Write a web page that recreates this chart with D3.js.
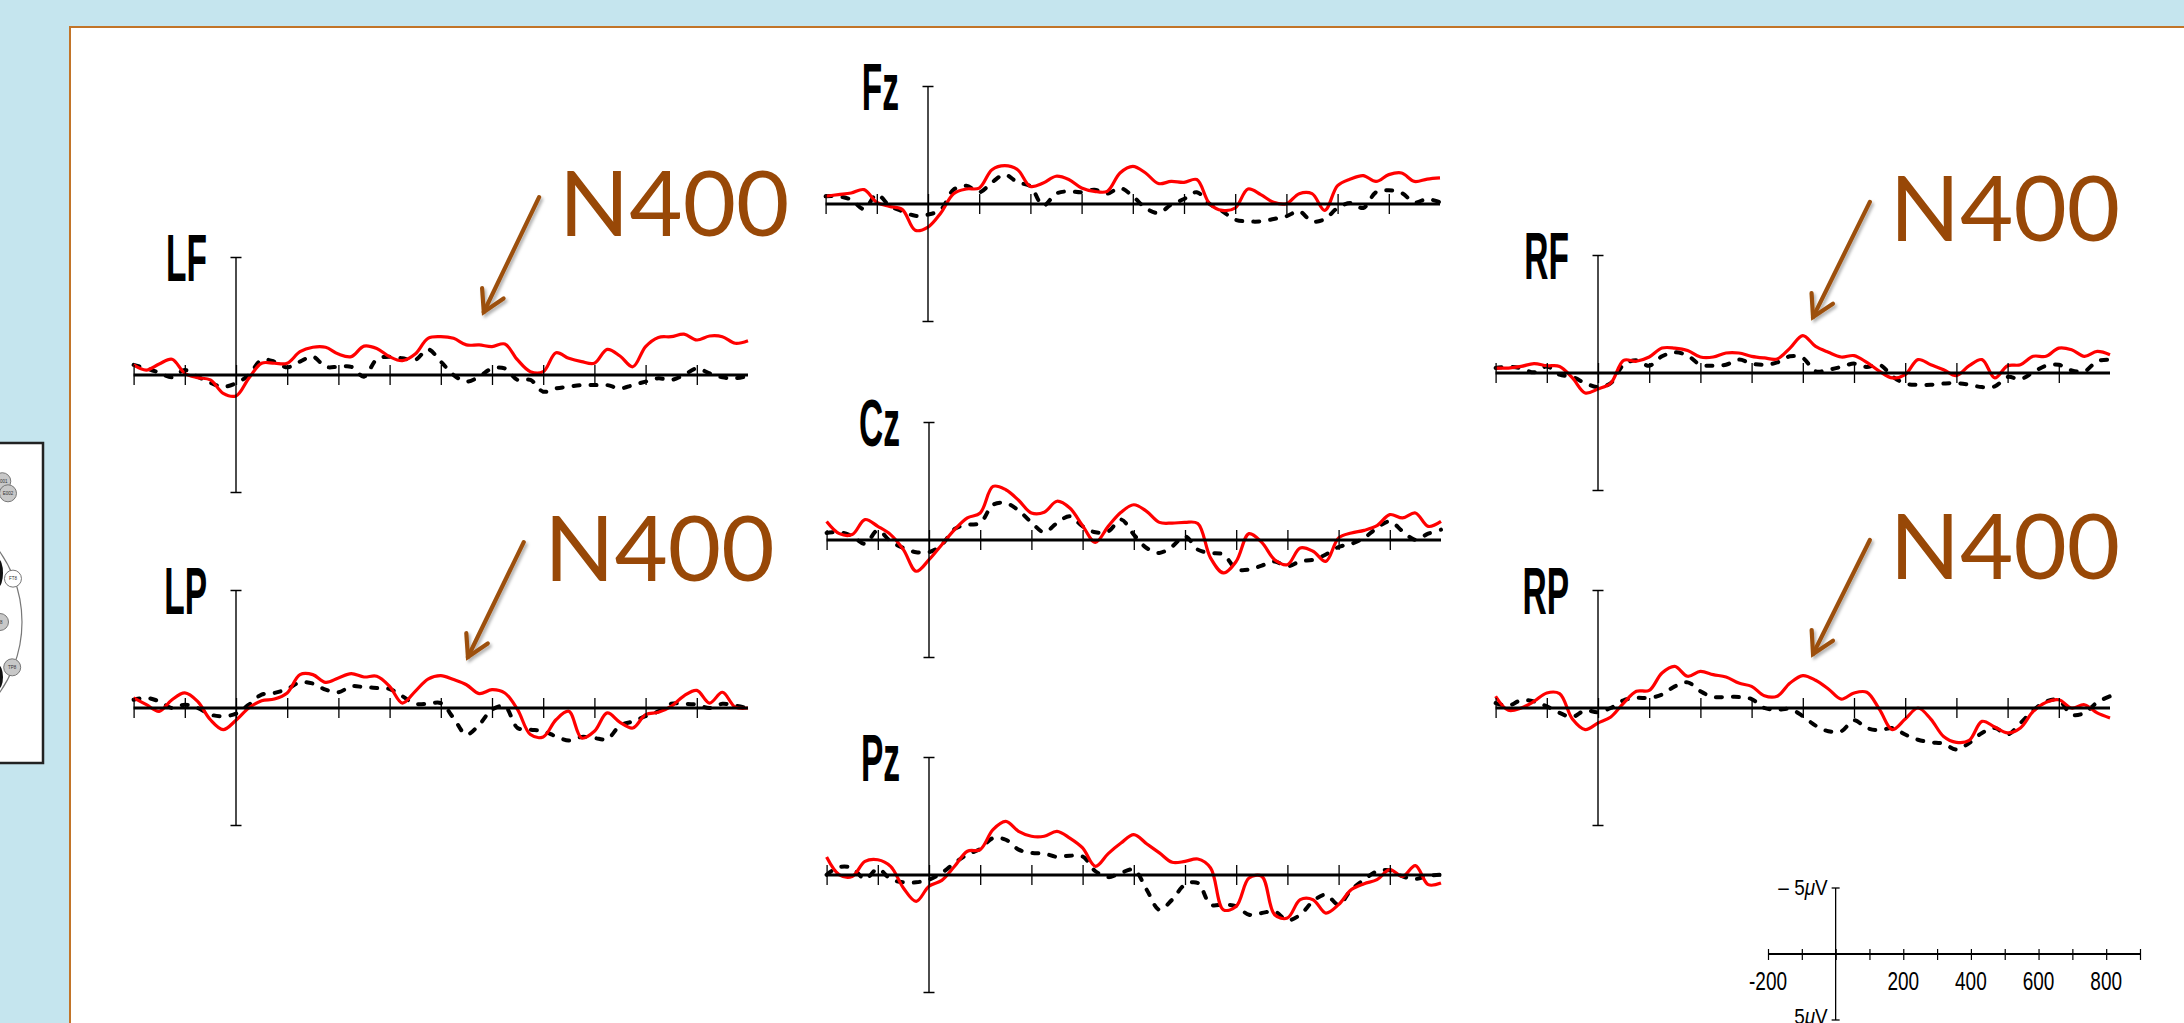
<!DOCTYPE html>
<html>
<head>
<meta charset="utf-8">
<script src="https://cdn.jsdelivr.net/npm/d3@7"></script>
<style>
  html, body { margin:0; padding:0; background:#c5e5ee; overflow:hidden; }
  svg { display:block; }
</style>
</head>
<body>
<div id="chart"></div>
<script>
// ---- data (uV, negative plotted up) ----
const times = [-200,-175,-150,-125,-100,-75,-50,-25,0,25,50,75,100,125,150,175,200,225,250,275,300,325,350,375,400,425,450,475,500,525,550,575,600,625,650,675,700,725,750,775,800,825,850,875,900,925,950,975,1000];
const timeTicks = [-200,-100,0,100,200,300,400,500,600,700,800,900];
const scaleTickLabels = [-200,200,400,600,800];

const lfRed  = [-0.43,-0.21,-0.47,-0.67,-0.07,0.11,0.21,0.78,0.89,0.14,-0.50,-0.50,-0.50,-0.99,-1.18,-1.18,-0.89,-0.78,-1.23,-1.13,-0.78,-0.61,-0.89,-1.56,-1.63,-1.56,-1.28,-1.28,-1.21,-1.32,-0.64,-0.14,-0.14,-0.95,-0.71,-0.57,-0.50,-1.09,-0.81,-0.35,-1.21,-1.60,-1.63,-1.74,-1.49,-1.66,-1.63,-1.35,-1.46];
const lfDash = [-0.43,-0.28,-0.10,0.10,-0.21,0.07,0.33,0.50,0.35,0.00,-0.64,-0.57,-0.33,-0.57,-0.78,-0.35,-0.35,-0.35,0.07,-0.67,-0.78,-0.71,-0.64,-1.09,-0.57,0.00,0.28,0.07,-0.28,-0.28,0.21,0.21,0.71,0.57,0.50,0.43,0.43,0.43,0.57,0.43,0.28,0.14,0.21,0.00,-0.28,-0.07,0.10,0.14,0.04];
const lpRed  = [-0.43,-0.14,0.14,-0.35,-0.64,-0.28,0.50,0.92,0.52,0.00,-0.31,-0.38,-0.64,-1.42,-1.42,-1.09,-1.28,-1.46,-1.32,-1.35,-0.92,-0.21,-0.71,-1.23,-1.38,-1.21,-0.99,-0.61,-0.78,-0.64,0.07,1.13,1.23,0.50,0.14,1.28,0.99,0.21,0.61,0.85,0.28,0.18,-0.07,-0.52,-0.75,-0.21,-0.67,-0.04,0.00];
const lpDash = [-0.35,-0.43,-0.28,0.00,-0.14,0.00,0.28,0.35,0.24,-0.14,-0.57,-0.64,-0.81,-1.09,-1.04,-0.78,-0.67,-0.92,-0.89,-0.85,-0.81,-0.50,-0.18,-0.18,-0.21,0.43,1.13,0.71,0.07,-0.07,0.85,0.92,0.99,1.21,1.38,1.23,1.28,1.32,0.75,0.57,0.35,0.14,-0.18,-0.18,-0.14,0.00,-0.18,-0.10,0.00];
const fzRed  = [-0.33,-0.40,-0.47,-0.61,-0.07,0.10,0.24,1.12,0.98,0.38,-0.44,-0.64,-0.68,-1.46,-1.63,-1.46,-0.75,-0.89,-1.18,-1.04,-0.68,-0.54,-0.54,-1.32,-1.60,-1.32,-0.87,-0.96,-0.92,-1.04,-0.01,0.27,0.17,-0.64,-0.40,-0.07,-0.01,-0.44,-0.44,0.27,-0.78,-1.06,-1.21,-0.96,-1.25,-1.32,-0.96,-1.06,-1.11];
const fzDash = [-0.33,-0.33,-0.18,0.21,-0.40,0.07,0.31,0.50,0.45,0.24,-0.61,-0.78,-0.50,-0.92,-1.25,-0.92,-0.75,0.07,-0.44,-0.54,-0.50,-0.61,-0.44,-0.68,-0.33,0.17,0.38,0.03,-0.21,-0.50,-0.01,0.31,0.67,0.74,0.74,0.64,0.52,0.31,0.74,0.64,0.17,-0.04,0.17,-0.50,-0.58,-0.47,-0.07,-0.21,-0.07];
const czRed  = [-0.79,-0.27,-0.23,-0.87,-0.58,-0.23,0.41,1.33,0.84,0.20,-0.44,-0.94,-1.15,-2.28,-2.14,-1.69,-1.15,-1.18,-1.65,-1.36,-0.61,0.10,-0.58,-1.18,-1.50,-1.22,-0.75,-0.72,-0.75,-0.70,0.77,1.40,0.91,-0.27,0.10,0.84,1.05,0.34,0.48,0.91,-0.09,-0.30,-0.41,-0.61,-1.08,-0.94,-1.15,-0.58,-0.79];
const czDash = [-0.30,-0.33,-0.16,0.16,-0.41,0.06,0.34,0.52,0.52,0.20,-0.47,-0.65,-0.72,-1.50,-1.57,-1.26,-0.75,-0.33,-0.72,-1.01,-0.58,-0.33,-0.37,-0.87,-0.23,0.34,0.55,0.27,-0.16,0.41,0.55,0.62,1.23,1.26,1.09,0.91,1.12,0.91,0.84,0.62,0.30,0.16,-0.09,-0.51,-0.79,-0.37,-0.01,-0.27,-0.44];
const pzRed  = [-0.77,-0.01,0.06,-0.58,-0.65,-0.37,0.55,1.12,0.48,0.23,-0.37,-1.01,-1.08,-1.93,-2.28,-1.86,-1.65,-1.65,-1.86,-1.57,-1.15,-0.37,-0.91,-1.36,-1.72,-1.33,-0.94,-0.54,-0.58,-0.68,-0.30,1.48,1.33,0.13,0.06,1.69,1.83,1.05,1.05,1.62,1.26,0.62,0.37,0.20,-0.23,0.06,-0.40,0.41,0.34];
const pzDash = [-0.01,-0.34,-0.30,0.17,-0.26,0.17,0.31,0.31,0.20,-0.09,-0.51,-0.87,-1.11,-1.57,-1.50,-1.08,-0.94,-0.91,-0.77,-0.82,-0.79,-0.16,0.09,-0.09,-0.23,0.62,1.48,1.05,0.41,0.34,1.26,1.26,1.33,1.69,1.62,1.55,1.93,1.69,1.12,0.84,1.26,0.62,0.20,-0.16,-0.20,0.06,0.17,0.03,-0.01];
const rfRed  = [-0.21,-0.21,-0.28,-0.40,-0.31,-0.28,0.21,0.85,0.68,0.43,-0.54,-0.50,-0.68,-1.06,-1.06,-0.96,-0.68,-0.68,-0.85,-0.85,-0.71,-0.64,-0.60,-1.06,-1.59,-1.13,-0.88,-0.68,-0.74,-0.45,-0.07,0.21,0.07,-0.57,-0.35,-0.14,0.11,-0.31,-0.57,0.21,-0.31,-0.35,-0.71,-0.71,-1.06,-0.99,-0.71,-0.92,-0.78];
const rfDash = [-0.21,-0.26,-0.20,-0.03,-0.28,0.07,0.17,0.43,0.60,0.43,-0.35,-0.54,-0.31,-0.71,-0.88,-0.74,-0.35,-0.31,-0.35,-0.57,-0.40,-0.35,-0.45,-0.71,-0.64,-0.07,-0.14,-0.26,-0.40,-0.26,-0.35,0.14,0.45,0.50,0.50,0.45,0.43,0.50,0.60,0.57,0.17,0.26,-0.03,-0.31,-0.35,-0.11,-0.07,-0.50,-0.57];
const rpRed  = [-0.50,0.10,0.00,-0.28,-0.64,-0.61,0.47,0.92,0.64,0.38,-0.21,-0.71,-0.75,-1.49,-1.77,-1.35,-1.56,-1.42,-1.32,-1.06,-0.92,-0.52,-0.50,-1.06,-1.38,-1.18,-0.81,-0.38,-0.64,-0.67,0.07,0.92,0.47,0.00,0.47,1.21,1.46,1.38,0.57,0.81,1.06,0.85,0.14,-0.24,-0.35,0.00,-0.14,0.21,0.43];
const rpDash = [-0.21,-0.10,-0.33,-0.28,-0.07,0.21,0.38,0.10,0.18,0.00,-0.33,-0.43,-0.43,-0.57,-0.92,-1.09,-0.71,-0.47,-0.47,-0.47,-0.38,0.00,0.07,0.04,0.35,0.75,0.99,0.99,0.52,0.85,0.95,0.85,1.13,1.35,1.46,1.52,1.77,1.49,1.06,0.85,1.13,0.64,0.10,-0.28,-0.33,0.28,0.21,-0.24,-0.50];

// N400 callouts, in each panel's own (ms, uV) units
const n400Notes = [
  { site:"LF", text:[631,-5.91], from:[592,-7.57], to:[484,-2.68] },
  { site:"LP", text:[602,-5.40], from:[562,-7.06], to:[453,-2.17] },
  { site:"RF", text:[570,-5.62], from:[531,-7.28], to:[420,-2.38] },
  { site:"RP", text:[570,-5.49], from:[531,-7.15], to:[420,-2.30] }
];

// electrodes of the cropped head map: angle (deg) and radius on the head
const headElectrodes = [
  { label:"E001", a:-54, r:174, fill:"#c8c8c8" },
  { label:"E002", a:-50, r:168, fill:"#c8c8c8" },
  { label:"FT8",  a:-21, r:121, fill:"#fff" },
  { label:"T8",   a:0,   r:100, fill:"#c8c8c8" },
  { label:"TP8",  a:22,  r:121, fill:"#c8c8c8" }
];

// ---- layout ----
const W = 2184, H = 1023;
const plots = [
  { site:"LF", x0:236, y0:375, red:lfRed, dash:lfDash },
  { site:"LP", x0:236, y0:708, red:lpRed, dash:lpDash },
  { site:"Fz", x0:928, y0:204, red:fzRed, dash:fzDash },
  { site:"Cz", x0:929, y0:540, red:czRed, dash:czDash },
  { site:"Pz", x0:929, y0:875, red:pzRed, dash:pzDash },
  { site:"RF", x0:1598, y0:373, red:rfRed, dash:rfDash },
  { site:"RP", x0:1598, y0:708, red:rpRed, dash:rpDash }
];
const PXMS = 0.512, HALF = 117.5;

const svg = d3.select("#chart").append("svg").attr("width", W).attr("height", H);

const defs = svg.append("defs");
defs.append("filter").attr("id","shadow").attr("x","-30%").attr("y","-30%").attr("width","160%").attr("height","160%")
  .append("feDropShadow").attr("dx",2).attr("dy",2.5).attr("stdDeviation",1.6)
  .attr("flood-color","#000").attr("flood-opacity",0.3);
defs.append("clipPath").attr("id","headClip")
  .append("rect").attr("x",0).attr("y",444).attr("width",42).attr("height",318);

svg.append("rect").attr("width",W).attr("height",H).attr("fill","#c5e5ee");
svg.append("rect").attr("x",70).attr("y",27).attr("width",W).attr("height",H)
  .attr("fill","#fff").attr("stroke","#c27428").attr("stroke-width",2);

// cropped head map (left edge of slide)
svg.append("rect").attr("x",-10).attr("y",443).attr("width",53).attr("height",320)
  .attr("fill","#fff").attr("stroke","#222").attr("stroke-width",2.5);
const head = svg.append("g").attr("clip-path","url(#headClip)");
const hc = { x:-100, y:622 };
head.append("circle").attr("cx",hc.x).attr("cy",hc.y).attr("r",122)
  .attr("fill","none").attr("stroke","#777").attr("stroke-width",1.2);
head.append("ellipse").attr("cx",-2).attr("cy",573).attr("rx",5).attr("ry",14).attr("fill","#111");
head.append("ellipse").attr("cx",-2).attr("cy",677).attr("rx",5).attr("ry",12).attr("fill","#111");
const el = head.selectAll(".el").data(headElectrodes).join("g")
  .attr("transform", d => `translate(${hc.x + d.r*Math.cos(d.a*Math.PI/180)},${hc.y + d.r*Math.sin(d.a*Math.PI/180)})`);
el.append("circle").attr("r",8.5).attr("fill",d=>d.fill).attr("stroke","#777").attr("stroke-width",1);
el.append("text").attr("text-anchor","middle").attr("dy","0.35em")
  .style("font-family","Liberation Sans, Arial, sans-serif").style("font-size","4.5px").attr("fill","#333")
  .text(d=>d.label);

// ---- ERP panels ----
const scales = {};
plots.forEach(p => {
  const x = d3.scaleLinear().domain([-200, 1000]).range([p.x0 - 200*PXMS, p.x0 + 1000*PXMS]);
  const y = d3.scaleLinear().domain([-5, 5]).range([p.y0 - HALF, p.y0 + HALF]);
  scales[p.site] = { x, y };
  const g = svg.append("g");

  const line = d3.line()
    .x((d,i) => x(times[i]))
    .y(d => y(d))
    .curve(d3.curveCatmullRom.alpha(0.5));

  g.append("path").datum(p.dash).attr("d", line)
    .attr("fill","none").attr("stroke","#000").attr("stroke-width",4)
    .attr("stroke-linecap","round").attr("stroke-dasharray","6,11");
  g.append("path").datum(p.red).attr("d", line)
    .attr("fill","none").attr("stroke","#ff0000").attr("stroke-width",3.2)
    .attr("stroke-linejoin","round");

  // time ticks crossing the baseline
  const ax = g.append("g").attr("transform", `translate(0,${y(0) - 10})`)
    .call(d3.axisBottom(x).tickValues(timeTicks).tickSize(20).tickFormat(""));
  ax.select(".domain").remove();
  ax.selectAll(".tick line").attr("stroke","#000").attr("stroke-width",1.3);

  // baseline
  g.append("line").attr("x1", x(-200)).attr("x2", x(1000)).attr("y1", y(0)).attr("y2", y(0))
    .attr("stroke","#000").attr("stroke-width",3);

  // voltage axis
  g.append("line").attr("x1", x(0)).attr("x2", x(0)).attr("y1", y(-5)).attr("y2", y(5))
    .attr("stroke","#000").attr("stroke-width",1.4);
  [-5, 5].forEach(v => g.append("line")
    .attr("x1", x(0) - 5.5).attr("x2", x(0) + 5.5).attr("y1", y(v)).attr("y2", y(v))
    .attr("stroke","#000").attr("stroke-width",1.5));

  // site label
  g.append("text")
    .attr("transform", `translate(${x(0) - 29},${y(0) - 94}) scale(0.5,1)`)
    .attr("text-anchor","end")
    .style("font-family","Liberation Sans, Arial, sans-serif")
    .style("font-size","67px").style("font-weight","bold")
    .attr("fill","#000")
    .text(p.site);
});

// ---- N400 callouts ----
n400Notes.forEach(n => {
  const { x, y } = scales[n.site];
  const g = svg.append("g");
  g.append("text").attr("x", x(n.text[0])).attr("y", y(n.text[1]))
    .style("font-family","Lato, Carlito, sans-serif").style("font-size","92px")
    .attr("fill","#984807").text("N400");

  const x1 = x(n.from[0]), y1 = y(n.from[1]), x2 = x(n.to[0]), y2 = y(n.to[1]);
  const ang = Math.atan2(y2 - y1, x2 - x1), L = 24, spread = 0.52;
  const b1 = [x2 - L*Math.cos(ang - spread), y2 - L*Math.sin(ang - spread)];
  const b2 = [x2 - L*Math.cos(ang + spread), y2 - L*Math.sin(ang + spread)];
  const arrow = g.append("g").attr("filter","url(#shadow)")
    .attr("stroke","#9c500c").attr("fill","none").attr("stroke-width",4.2);
  arrow.append("line").attr("x1",x1).attr("y1",y1).attr("x2",x2).attr("y2",y2).attr("stroke-linecap","round");
  arrow.append("path").attr("d", `M${b1[0]},${b1[1]}L${x2},${y2}L${b2[0]},${b2[1]}`)
    .attr("stroke-linejoin","miter").attr("stroke-linecap","round");
});

// ---- calibration axes (bottom right) ----
const sx = d3.scaleLinear().domain([-200, 900]).range([1768, 2140]);
const sy = d3.scaleLinear().domain([-5, 5]).range([888, 1020]);
const sg = svg.append("g");
const sax = sg.append("g").attr("transform", `translate(0,${sy(0) - 5})`)
  .call(d3.axisBottom(sx).tickValues(timeTicks).tickSize(11).tickFormat(""));
sax.select(".domain").remove();
sax.selectAll(".tick line").attr("stroke","#000").attr("stroke-width",1.2);
sg.append("line").attr("x1", sx(-200)).attr("x2", sx(900)).attr("y1", sy(0)).attr("y2", sy(0))
  .attr("stroke","#000").attr("stroke-width",1.8);
sg.append("line").attr("x1", sx(0)).attr("x2", sx(0)).attr("y1", sy(-5)).attr("y2", sy(5))
  .attr("stroke","#000").attr("stroke-width",1.3);
[-5, 5].forEach(v => sg.append("line")
  .attr("x1", sx(0) - 4).attr("x2", sx(0) + 4).attr("y1", sy(v)).attr("y2", sy(v))
  .attr("stroke","#000").attr("stroke-width",1.3));

sg.selectAll(".tl").data(scaleTickLabels).join("text")
  .attr("transform", d => `translate(${sx(d)},990) scale(0.76,1)`)
  .attr("text-anchor","middle")
  .style("font-family","Liberation Sans, Arial, sans-serif").style("font-size","25px")
  .attr("fill","#000").text(d => d);

function voltLabel(txt, yPos) {
  const t = sg.append("text")
    .attr("transform", `translate(${sx(0) - 8},${yPos}) scale(0.86,1)`)
    .attr("text-anchor","end")
    .style("font-family","Liberation Sans, Arial, sans-serif").style("font-size","22px")
    .attr("fill","#000");
  t.append("tspan").text(txt);
  t.append("tspan").style("font-style","italic").text("\u03bc");
  t.append("tspan").text("V");
}
voltLabel("\u2013 5", 895);
voltLabel("5", 1024);
</script>
</body>
</html>
